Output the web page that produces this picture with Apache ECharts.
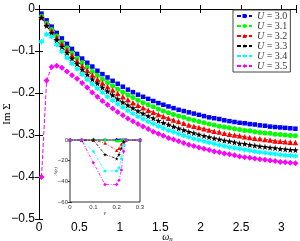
<!DOCTYPE html>
<html><head><meta charset="utf-8">
<script src="https://cdn.jsdelivr.net/npm/echarts@6/dist/echarts.min.js"></script>
<style>html,body{margin:0;padding:0;background:#fff}#c{width:300px;height:241px}</style>
</head><body><div id="c"></div>
<script>
const omega = [0.031,0.094,0.157,0.220,0.283,0.346,0.408,0.471,0.534,0.597,0.660,0.723,0.785,0.848,0.911,0.974,1.037,1.100,1.162,1.225,1.288,1.351,1.414,1.477,1.539,1.602,1.665,1.728,1.791,1.854,1.916,1.979,2.042,2.105,2.168,2.231,2.293,2.356,2.419,2.482,2.545,2.608,2.670,2.733,2.796,2.859,2.922,2.985,3.047,3.110,3.173];
const seriesNames = ['U = 3.0','U = 3.1','U = 3.2','U = 3.3','U = 3.4','U = 3.5'];
const imU30 = [-0.011,-0.027,-0.042,-0.057,-0.070,-0.083,-0.095,-0.107,-0.118,-0.128,-0.137,-0.147,-0.155,-0.163,-0.171,-0.178,-0.185,-0.192,-0.198,-0.204,-0.209,-0.214,-0.219,-0.224,-0.228,-0.232,-0.236,-0.240,-0.243,-0.246,-0.249,-0.252,-0.255,-0.258,-0.260,-0.262,-0.265,-0.267,-0.269,-0.271,-0.272,-0.274,-0.275,-0.277,-0.278,-0.280,-0.281,-0.282,-0.283,-0.284,-0.285];
const imU31 = [-0.017,-0.034,-0.049,-0.064,-0.079,-0.092,-0.105,-0.117,-0.128,-0.138,-0.149,-0.158,-0.167,-0.175,-0.183,-0.191,-0.198,-0.205,-0.211,-0.217,-0.223,-0.228,-0.233,-0.238,-0.243,-0.247,-0.251,-0.255,-0.258,-0.262,-0.265,-0.268,-0.271,-0.274,-0.276,-0.279,-0.281,-0.283,-0.285,-0.287,-0.289,-0.290,-0.292,-0.294,-0.295,-0.296,-0.298,-0.299,-0.300,-0.301,-0.302];
const imU32 = [-0.018,-0.036,-0.052,-0.068,-0.083,-0.097,-0.110,-0.123,-0.135,-0.146,-0.157,-0.167,-0.176,-0.185,-0.193,-0.201,-0.209,-0.216,-0.223,-0.229,-0.235,-0.241,-0.246,-0.251,-0.256,-0.260,-0.264,-0.268,-0.272,-0.276,-0.279,-0.282,-0.285,-0.288,-0.291,-0.293,-0.296,-0.298,-0.300,-0.302,-0.304,-0.306,-0.308,-0.309,-0.311,-0.312,-0.314,-0.315,-0.316,-0.317,-0.318];
const imU33 = [-0.021,-0.040,-0.057,-0.074,-0.090,-0.104,-0.118,-0.131,-0.144,-0.156,-0.167,-0.177,-0.187,-0.196,-0.205,-0.214,-0.222,-0.229,-0.236,-0.243,-0.249,-0.255,-0.260,-0.266,-0.271,-0.275,-0.280,-0.284,-0.288,-0.292,-0.295,-0.299,-0.302,-0.305,-0.308,-0.310,-0.313,-0.315,-0.317,-0.320,-0.321,-0.323,-0.325,-0.327,-0.328,-0.330,-0.331,-0.333,-0.334,-0.335,-0.336];
const imU34 = [-0.078,-0.060,-0.066,-0.085,-0.101,-0.116,-0.130,-0.143,-0.156,-0.168,-0.179,-0.189,-0.199,-0.209,-0.218,-0.226,-0.234,-0.242,-0.249,-0.256,-0.262,-0.268,-0.273,-0.279,-0.284,-0.289,-0.293,-0.297,-0.301,-0.305,-0.309,-0.312,-0.315,-0.318,-0.321,-0.324,-0.326,-0.329,-0.331,-0.333,-0.335,-0.337,-0.339,-0.341,-0.342,-0.344,-0.345,-0.347,-0.348,-0.349,-0.350];
const imU35 = [-0.400,-0.170,-0.138,-0.135,-0.140,-0.149,-0.158,-0.166,-0.176,-0.187,-0.199,-0.209,-0.219,-0.228,-0.237,-0.245,-0.253,-0.261,-0.267,-0.274,-0.280,-0.286,-0.292,-0.297,-0.302,-0.307,-0.311,-0.315,-0.319,-0.323,-0.326,-0.330,-0.333,-0.336,-0.339,-0.341,-0.344,-0.346,-0.348,-0.351,-0.353,-0.354,-0.356,-0.358,-0.359,-0.361,-0.362,-0.364,-0.365,-0.366,-0.367];
// inset A(eps)
const eps = [0,0.05,0.1,0.15,0.2,0.21,0.22,0.23,0.24,0.3];
const aU30 = [0,0,0,0,0,0,0,0,0,0];
const aU31 = [0,0,0,0,-1,-1,-0.5,0,0,0];
const aU32 = [0,0,0,-3,-10,-8,-4,-1,0,0];
const aU33 = [0,0,0,-14,-18,-14,-8,-2,0,0];
const aU34 = [0,0,-11,-30,-30,-27,-18,-5,0,0];
const aU35 = [0,0,-22,-43,-43,-39,-29,-11,0,0];
const xTicks = [0,0.5,1,1.5,2,2.5,3];
const yTicks = [0,-0.1,-0.2,-0.3,-0.4,-0.5];

const colors = ['#0000ff','#00ff00','#ff0000','#000000','#00ffff','#ff00ff'];
const star = 'path://M50,0 L61,35 L98,35 L68,57 L79,91 L50,70 L21,91 L32,57 L2,35 L39,35 Z';
const hexa = 'path://M50,0 L64,25 L93,25 L79,50 L93,75 L64,75 L50,100 L36,75 L7,75 L21,50 L7,25 L36,25 Z';
const symbols = ['rect','circle','triangle',star,hexa,'diamond'];
const symSizes = [4.5,5,5.5,6.5,6,6];
const mainData = [imU30,imU31,imU32,imU33,imU34,imU35];
const insetData = [aU30,aU31,aU32,aU33,aU34,aU35];

const sans = 'Liberation Sans';
const serif = 'Liberation Serif';
const series = [];
mainData.forEach((arr,k)=>{
  series.push({
    name: seriesNames[k], type:'line', xAxisIndex:0, yAxisIndex:0,
    data: omega.map((w,i)=>[w,arr[i]]),
    symbol: symbols[k], symbolSize: symSizes[k], showSymbol:true,
    lineStyle:{color:colors[k], width:1, type:[4,2]},
    itemStyle:{color:colors[k], borderWidth:0},
    clip:false, animation:false, z:2
  });
});
insetData.forEach((arr,k)=>{
  series.push({
    name: 'inset'+k, type:'line', xAxisIndex:2, yAxisIndex:2,
    data: eps.map((e,i)=>[e,arr[i]]),
    symbol: symbols[k], symbolSize: symSizes[k]*0.6, showSymbol:true,
    lineStyle:{color:colors[k], width:0.8, type:[3,1.5,1,1.5]},
    itemStyle:{color:colors[k], borderWidth:0},
    animation:false, z:12
  });
});

const tickFmt = (ticks, f)=> v => ticks.some(t=>Math.abs(t-v)<1e-6) ? f(v) : '';
const chart = echarts.init(document.getElementById('c'), null, {renderer:'canvas'});
chart.setOption({
  animation:false,
  backgroundColor:'#fff',
  grid:[
    {left:39, right:4, top:9, bottom:22, show:false, containLabel:false, outerBoundsMode:'none'},
    {left:70, top:140, width:70, height:62, show:true, backgroundColor:'#fff', borderColor:'#333', borderWidth:1, z:10, containLabel:false, outerBoundsMode:'none'}
  ],
  legend:{
    data: seriesNames, orient:'vertical', left:233, top:10,
    padding:[1,3,1,3], itemGap:0, itemWidth:15, itemHeight:5,
    backgroundColor:'#fff', borderColor:'#444', borderWidth:1,
    textStyle:{fontFamily:serif, fontSize:10, color:'#333', lineHeight:8,
      rich:{i:{fontFamily:serif, fontStyle:'italic', fontSize:10, color:'#333', lineHeight:8}}},
    formatter: n => '{i|U}' + n.slice(1)
  },
  xAxis:[
    {gridIndex:0, type:'value', position:'bottom', min:0, max:3.18, interval:0.5,
     axisLine:{lineStyle:{color:'#000', width:1}}, axisTick:{inside:true, length:4, lineStyle:{color:'#000'}},
     splitLine:{show:false}, axisLabel:{color:'#000', fontFamily:sans, fontSize:12, margin:3, showMaxLabel:true,
       formatter: tickFmt(xTicks, v=>String(v))},
     name:'{w|ω}{s|n}', nameLocation:'middle', nameGap:12, nameMoveOverlap:false,
     nameTextStyle:{rich:{w:{fontFamily:serif, fontStyle:'italic', fontSize:10, color:'#000'}, s:{fontFamily:serif, fontStyle:'italic', fontSize:7, color:'#000', padding:[5,0,0,0]}}}},
    {gridIndex:0, type:'value', position:'top', min:0, max:3.18, interval:0.5,
     axisLine:{lineStyle:{color:'#000', width:1}}, axisTick:{inside:true, length:4, lineStyle:{color:'#000'}},
     splitLine:{show:false}, axisLabel:{show:false}},
    {gridIndex:1, type:'value', position:'bottom', min:0, max:0.3, interval:0.1,
     axisLine:{lineStyle:{color:'#333', width:1}}, axisTick:{inside:true, length:2, lineStyle:{color:'#333'}},
     splitLine:{show:false}, axisLabel:{color:'#333', fontFamily:sans, fontSize:6, margin:2},
     name:'ε', nameLocation:'middle', nameGap:8, nameMoveOverlap:false,
     nameTextStyle:{fontFamily:serif, fontStyle:'italic', fontSize:6, color:'#333'}},
    {gridIndex:1, type:'value', position:'top', min:0, max:0.3, interval:0.1,
     axisLine:{lineStyle:{color:'#333', width:1}}, axisTick:{inside:true, length:2, lineStyle:{color:'#333'}},
     splitLine:{show:false}, axisLabel:{show:false}}
  ],
  yAxis:[
    {gridIndex:0, type:'value', position:'left', min:-0.5, max:0, interval:0.1,
     axisLine:{lineStyle:{color:'#000', width:1}}, axisTick:{inside:true, length:4, lineStyle:{color:'#000'}},
     splitLine:{show:false}, axisLabel:{color:'#000', fontFamily:sans, fontSize:12, margin:4,
       formatter: tickFmt(yTicks, v=> v===0 ? '0' : '−'+Math.abs(v).toFixed(1))},
     name:'Im Σ', nameLocation:'middle', nameGap:26, nameRotate:90, nameMoveOverlap:false,
     nameTextStyle:{fontFamily:serif, fontSize:11, color:'#000'}},
    {gridIndex:0, type:'value', position:'right', min:-0.5, max:0, interval:0.1,
     axisLine:{lineStyle:{color:'#000', width:1}}, axisTick:{inside:true, length:4, lineStyle:{color:'#000'}},
     splitLine:{show:false}, axisLabel:{show:false}},
    {gridIndex:1, type:'value', position:'left', min:-60, max:0, interval:20,
     axisLine:{lineStyle:{color:'#333', width:1}}, axisTick:{inside:true, length:2, lineStyle:{color:'#333'}},
     splitLine:{show:false}, axisLabel:{color:'#333', fontFamily:sans, fontSize:6, margin:2,
       formatter: v => v===0 ? '0' : '−'+Math.abs(v)},
     name:'A(ε)', nameLocation:'middle', nameGap:12, nameRotate:90, nameMoveOverlap:false,
     nameTextStyle:{fontFamily:serif, fontStyle:'italic', fontSize:5, color:'#333'}},
    {gridIndex:1, type:'value', position:'right', min:-60, max:0, interval:20,
     axisLine:{lineStyle:{color:'#333', width:1}}, axisTick:{inside:true, length:2, lineStyle:{color:'#333'}},
     splitLine:{show:false}, axisLabel:{show:false}}
  ],
  series: series
});
</script></body></html>
